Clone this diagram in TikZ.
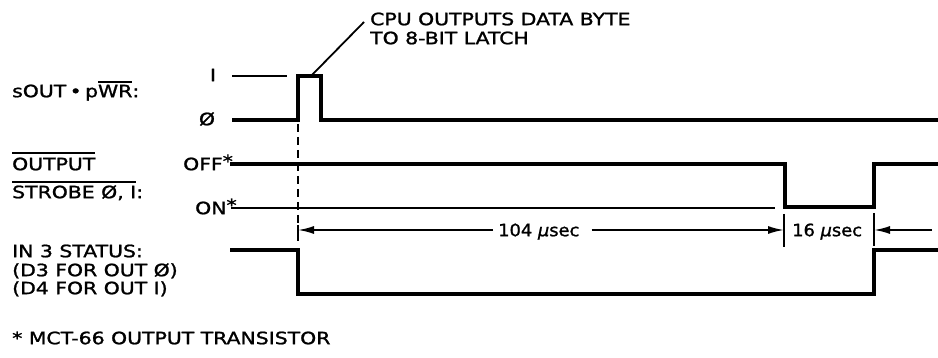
\documentclass[tikz,border=0pt]{standalone}
\usepackage{fontspec}
\usepackage{graphicx}
\newfontfamily\lblfont[FakeBold=1.2]{DejaVu Sans}
\usetikzlibrary{arrows.meta}
\newcommand\sx[1]{\scalebox{1.2}[1]{#1}}
\newcommand\sxn[1]{\scalebox{1.05}[1]{#1}}
\newcommand\ovl[2]{\sbox0{#2}\rlap{\rule[#1]{\wd0}{1.8pt}}\usebox0}
\newcommand\astr{\raisebox{3pt}{*}}
\tikzset{
  lbl/.style={font=\lblfont\fontsize{17}{20}\selectfont, inner sep=0pt,
              text height=12.4pt, text depth=0pt, anchor=west},
  wave/.style={line width=3.2pt, line join=miter},
  fineline/.style={line width=1.8pt},
  barline/.style={line width=2.2pt},
  dashline/.style={line width=2pt, dash pattern=on 8pt off 5pt},
  dimarr/.style={line width=1.8pt, -{Latex[length=16pt,width=8pt]}},
}
\begin{document}
\begin{tikzpicture}[x=1pt,y=-1pt]
\path[use as bounding box, fill=white] (0,0) rectangle (938,358);

% ---------- labels ----------
\node[lbl] (cpu1) at (370,19) {\sx{CPU OUTPUTS DATA BYTE}};
\node[lbl] (cpu2) at (370,38) {\sx{TO 8-BIT LATCH}};
\node[lbl] (sout) at (12,91) {\sx{sOUT\,•\,p\ovl{14pt}{WR}:}};
\node[lbl,anchor=center] (lvl1) at (213,75) {\sx{I}};
\node[lbl,anchor=center] (lvl0) at (207,119) {\sx{Ø}};
\node[lbl] (outp) at (12,164) {\sx{\ovl{16pt}{OUTPUT}}};
\node[lbl] (strobe) at (12,192) {\sx{\ovl{15.5pt}{STROBE Ø, I}:}};
\node[lbl] (off) at (183,164) {\sx{OFF\astr}};
\node[lbl] (on) at (195,208) {\sx{ON\astr}};
\node[lbl] (in3) at (12,251) {\sx{IN 3 STATUS:}};
\node[lbl] (d3) at (12,270) {\sx{(D3 FOR OUT Ø)}};
\node[lbl] (d4) at (12,288) {\sx{(D4 FOR OUT I)}};
\node[lbl] (foot) at (12,338) {\sx{* MCT-66 OUTPUT TRANSISTOR}};
\node[lbl] (t104) at (498,230) {\sxn{104 {\itshape µ}sec}};
\node[lbl] (t16) at (792,230) {\sxn{16 {\itshape µ}sec}};

% ---------- key coordinates ----------
\coordinate (s0) at (232,120);
\coordinate (pr) at (298,120);
\coordinate (pf) at (321,120);
\coordinate (send) at (938,120);
\coordinate (h0) at (232,76);
\coordinate (h1) at (287,76);
\coordinate (callA) at (312,75);
\coordinate (callB) at (364,22);

\coordinate (o0) at (230,164);
\coordinate (of) at (785,164);
\coordinate (orr) at (874,164);
\coordinate (oend) at (938,164);
\coordinate (onlo) at (785,207);

\coordinate (n0) at (231,208);
\coordinate (n1) at (775,208);

\coordinate (dtop) at (298,124);
\coordinate (bar1t) at (298,225);
\coordinate (bar1b) at (298,241);
\coordinate (bar1m) at (298,230);
\coordinate (bar2t) at (784,214);
\coordinate (bar2b) at (784,247);
\coordinate (bar2m) at (784,230);
\coordinate (bar3t) at (874,213);
\coordinate (bar3b) at (874,246);
\coordinate (bar3m) at (874,230);
\coordinate (rfree) at (932,230);

\coordinate (i0) at (230,250);
\coordinate (i1) at (298,250);
\coordinate (i2) at (874,294);
\coordinate (iend) at (938,250);

% ---------- sOUT . pWR ----------
\draw[barline] (h0) -- (h1);
\draw[wave] (s0) -- (pr) |- (pf |- h0) |- (send);
\draw[fineline] (callA) -- (callB);

% ---------- OUTPUT STROBE ----------
\draw[wave] (o0) -- (of) |- (orr |- onlo) |- (oend);
\draw[fineline] (n0) -- (n1);

% ---------- dashed marker and dimensions ----------
\draw[dashline] (dtop) -- (bar1t);
\draw[barline] (bar1t) -- (bar1b);
\draw[barline] (bar2t) -- (bar2b);
\draw[barline] (bar3t) -- (bar3b);
\draw[dimarr] ([xshift=-5pt]t104.west) -- (bar1m);
\draw[dimarr] ([xshift=12pt]t104.east) -- (bar2m);
\draw[dimarr] (rfree) -- (bar3m);

% ---------- IN 3 STATUS ----------
\draw[wave] (i0) -- (i1) |- (i2) |- (iend);
\end{tikzpicture}
\end{document}
